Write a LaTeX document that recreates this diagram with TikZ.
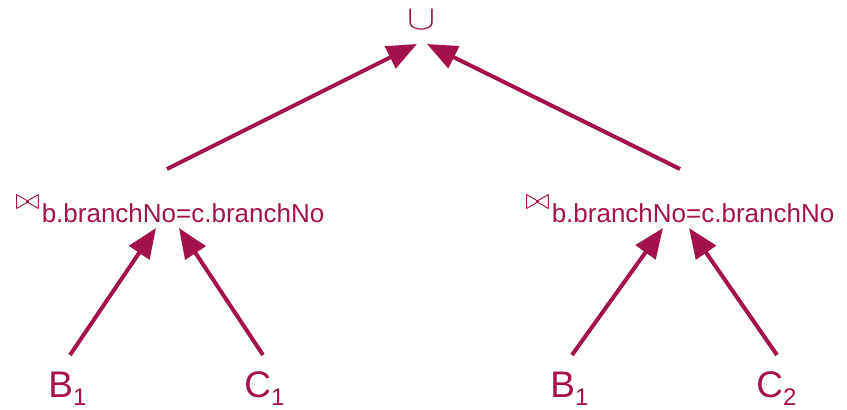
\documentclass[tikz,border=0pt]{standalone}
\usepackage{fontspec}
\setmainfont{Liberation Sans}
\usetikzlibrary{arrows.meta}
\definecolor{wine}{RGB}{163,18,75}
\newcommand{\relsub}[1]{\raisebox{-4pt}{\fontsize{12}{14}\selectfont #1}}
\newcommand{\joinlabel}[1]{%
    \raisebox{6.5pt}{\scalebox{1.25}{$\bowtie$}}\hspace{1pt}#1%
}

\begin{document}
\begin{tikzpicture}[x=0.5pt, y=-0.5pt,
    every node/.style={text=wine, inner sep=0pt},
    rel/.style={anchor=base west, font=\fontsize{18.5}{22}\selectfont},
    cond/.style={anchor=base west, font=\fontsize{13}{16}\selectfont},
    arr/.style={draw=wine, line width=2pt, -{Triangle[length=15pt, width=12pt]}}]
\useasboundingbox (0, 0) rectangle (847, 409);

% union at the root
\node (union) at (422, 20) {\fontsize{16}{18}\selectfont\scalebox{1.22}[1]{$\cup$}};
\coordinate (union-l) at (417, 44);
\coordinate (union-r) at (427, 44);

% join nodes
\node[cond] (join1) at (15, 222) {\joinlabel{b.branchNo=c.branchNo}};
\node[cond] (join2) at (525, 222) {\joinlabel{b.branchNo=c.branchNo}};
\coordinate (join1-out) at (167, 169);
\coordinate (join1-l) at (156, 228);
\coordinate (join1-r) at (179, 228);
\coordinate (join2-out) at (680, 169);
\coordinate (join2-l) at (663, 228);
\coordinate (join2-r) at (689, 228);

% base relations
\node[rel] (b1) at (48, 397) {B\relsub{1}};
\node[rel] (c1) at (244, 397) {C\relsub{1}};
\node[rel] (b2) at (550, 397) {B\relsub{1}};
\node[rel] (c2) at (756, 397) {C\relsub{2}};
\coordinate (b1-out) at (70, 355);
\coordinate (c1-out) at (263, 355);
\coordinate (b2-out) at (572, 355);
\coordinate (c2-out) at (777, 355);

% edges
\draw[arr] (join1-out) -- (union-l);
\draw[arr] (join2-out) -- (union-r);
\draw[arr] (b1-out) -- (join1-l);
\draw[arr] (c1-out) -- (join1-r);
\draw[arr] (b2-out) -- (join2-l);
\draw[arr] (c2-out) -- (join2-r);
\end{tikzpicture}
\end{document}
